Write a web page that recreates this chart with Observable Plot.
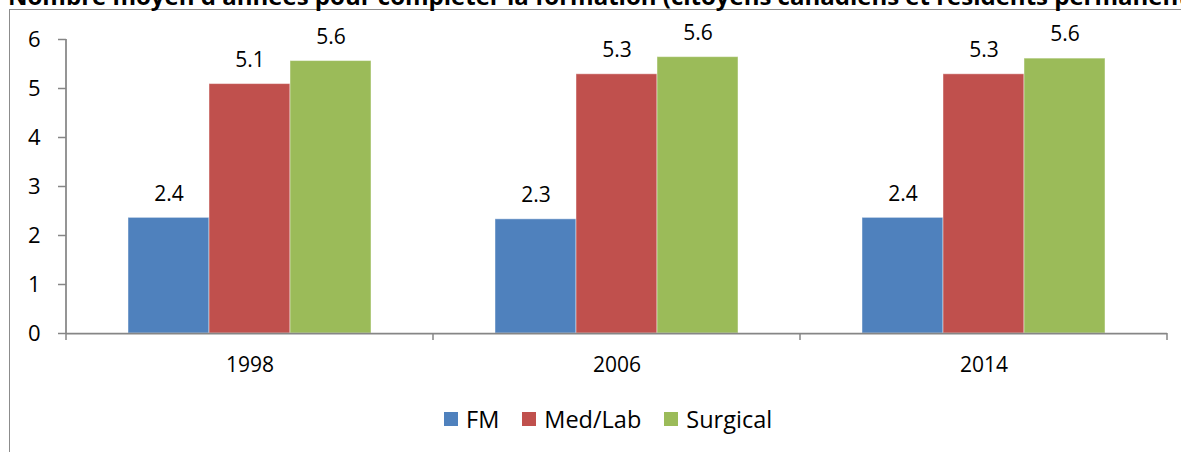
<!DOCTYPE html>
<html>
<head>
<meta charset="utf-8">
<script src="https://cdn.jsdelivr.net/npm/d3@7"></script>
<script src="https://cdn.jsdelivr.net/npm/@observablehq/plot@0.6"></script>
<style>
  html, body { margin: 0; padding: 0; background: #fff; overflow: hidden; width: 1181px; height: 452px; }
  #wrap { position: relative; width: 1181px; height: 452px; overflow: hidden; }
  #title { position: absolute; left: 8px; top: -16px; font: bold 24px "Open Sans", sans-serif; line-height: 24px; white-space: nowrap; color: #000; }
  #frame { position: absolute; left: 9px; top: 9px; width: 1300px; height: 600px; border-left: 1.5px solid #8c8c8c; border-top: 1.5px solid #8c8c8c; }
  #chart { position: absolute; left: 0; top: 0; }
  #legend { position: absolute; left: 444px; top: 403px; display: flex; align-items: center; font: 23.5px "Open Sans", sans-serif; color: #000; }
  .item { display: flex; align-items: center; margin-right: 23px; }
  .sw { width: 14px; height: 14px; margin-right: 8px; }
</style>
</head>
<body>
<div id="wrap">
  <div id="frame"></div>
  <div id="title"></div>
  <div id="chart"></div>
  <div id="legend"></div>
</div>
<script>
const titleText = "Nombre moyen d'années pour compléter la formation (citoyens canadiens et résidents permanents)";
const years = ["1998", "2006", "2014"];
const series = ["FM", "Med/Lab", "Surgical"];
const colors = ["#4F81BD", "#C0504D", "#9BBB59"];
const fm = [2.36, 2.33, 2.36];
const medLab = [5.09, 5.29, 5.29];
const surgical = [5.56, 5.64, 5.61];
const yTicks = [0, 1, 2, 3, 4, 5, 6];

const valuesBySeries = [fm, medLab, surgical];
const data = years.flatMap((yr, i) => series.map((s, j) => ({year: yr, series: s, value: valuesBySeries[j][i]})));

document.getElementById("title").textContent = titleText;

const plot = Plot.plot({
  width: 1181,
  height: 390,
  marginLeft: 66,
  marginRight: 14,
  marginTop: 39,
  marginBottom: 57,
  style: {fontFamily: "'Open Sans', sans-serif", fontSize: "21px", color: "#000", background: "transparent", overflow: "visible"},
  fx: {domain: years, padding: 0, label: null},
  x: {domain: series, paddingInner: 0, paddingOuter: 0.745, axis: null},
  y: {domain: [0, 6], label: null},
  color: {domain: series, range: colors},
  marks: [
    Plot.barY(data, {fx: "year", x: "series", y: "value", fill: "series", stroke: "#fff", strokeOpacity: 0.45, strokeWidth: 1}),
    Plot.text(data, {fx: "year", x: "series", y: "value", text: d => d3.format(".1f")(d.value), dy: -24, fill: "#000", fontSize: 21}),
    Plot.ruleY([0], {stroke: "#868686", strokeWidth: 1.75}),
    Plot.axisY(yTicks, {anchor: "left", tickSize: 8, tickPadding: 18, stroke: "#868686", strokeWidth: 1.5, fill: "#000", label: null, fontSize: 22}),
    Plot.axisFx({anchor: "bottom", tickSize: 0, tickPadding: 24, label: null, fill: "#000", fontSize: 21})
  ]
});
document.getElementById("chart").appendChild(plot);

const svgNode = plot.tagName.toLowerCase() === "svg" ? plot : plot.querySelector("svg");
const svg = d3.select(svgNode);
svg.selectAll("[aria-label='y-axis tick label']").attr("font-size", 22);

// Axis lines and category boundary ticks, from the plot's own fx and y scales
const fxs = plot.scale("fx");
const ys = plot.scale("y");
const y0 = ys.apply(0);
const yTop = ys.apply(yTicks[yTicks.length - 1]);
const xLeft = fxs.apply(years[0]);
const edges = years.map(d => fxs.apply(d));
edges.push(fxs.apply(years[years.length - 1]) + fxs.bandwidth);
const g = svg.append("g");
g.append("line")
  .attr("x1", xLeft).attr("x2", xLeft)
  .attr("y1", yTop).attr("y2", y0)
  .attr("stroke", "#868686").attr("stroke-width", 1.75);
g.selectAll("line.edge").data(edges).join("line").attr("class", "edge")
  .attr("x1", d => d).attr("x2", d => d)
  .attr("y1", y0).attr("y2", y0 + 7)
  .attr("stroke", "#868686").attr("stroke-width", 1.5);

// Legend
const legend = d3.select("#legend");
series.forEach((s, i) => {
  const it = legend.append("div").attr("class", "item");
  it.append("div").attr("class", "sw").style("background", colors[i]);
  it.append("span").text(s);
});
</script>
</body>
</html>
